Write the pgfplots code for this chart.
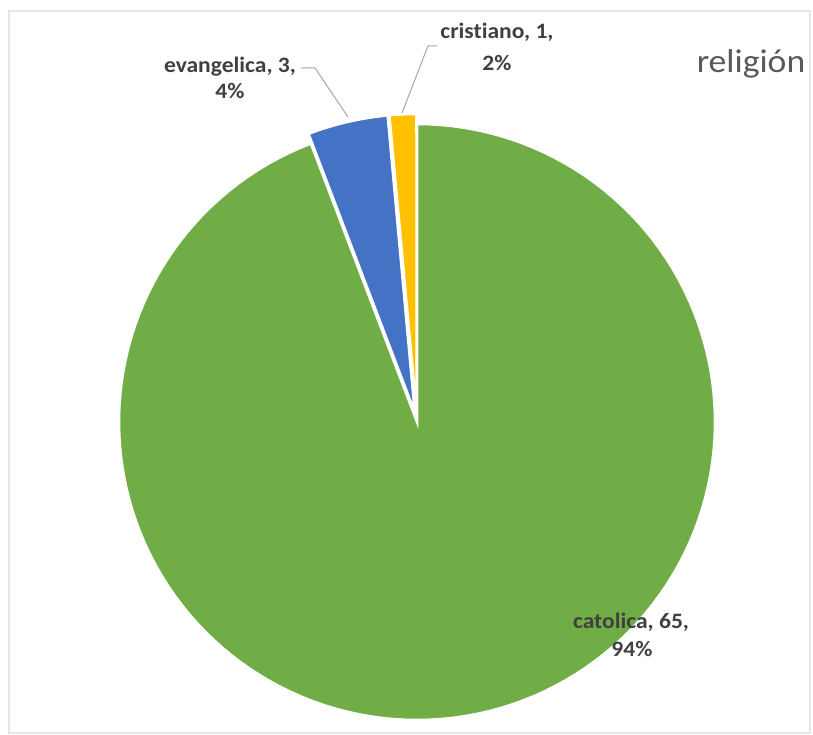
\documentclass[border=0pt]{standalone}
\usepackage{pgfplots}
\pgfplotsset{compat=1.18}
\usepackage{fontspec}
\setmainfont{Carlito}
\newfontfamily\lblfont[FakeStretch=1.07,Ligatures=NoCommon]{Carlito}
\newfontfamily\ttlfont[FakeStretch=1.08,Ligatures=NoCommon]{Carlito}
\definecolor{cgreen}{HTML}{70AD47}
\definecolor{cblue}{HTML}{4472C4}
\definecolor{cgold}{HTML}{FFC000}
\definecolor{lbltext}{HTML}{404040}
\definecolor{ttltext}{HTML}{595959}
\definecolor{leader}{HTML}{A6A6A6}
\definecolor{frame}{HTML}{E6E6E6}
% data: catolica, evangelica, cristiano
\def\vA{65}
\def\vB{3}
\def\vC{1}
\pgfmathsetmacro{\tot}{\vA+\vB+\vC}
% Excel starts at 12 o'clock going clockwise
\pgfmathsetmacro{\aStart}{450-360*(\vA/\tot)}  % catolica from here to 450
\pgfmathsetmacro{\bStart}{\aStart-360*(\vB/\tot)}  % evangelica
\pgfmathsetmacro{\cStart}{\bStart-360*(\vC/\tot)}  % cristiano
\def\cx{417}
\def\cy{422}
\def\R{298}
\def\ex{10}
\pgfmathsetmacro{\bMid}{(\aStart+\bStart)/2}
\pgfmathsetmacro{\cMid}{(\bStart+\cStart)/2}
\pgfmathsetmacro{\bx}{\cx+\ex*cos(\bMid)}
\pgfmathsetmacro{\by}{\cy-\ex*sin(\bMid)}
\pgfmathsetmacro{\ccx}{\cx+\ex*cos(\cMid)}
\pgfmathsetmacro{\ccy}{\cy-\ex*sin(\cMid)}
\begin{document}
\begin{tikzpicture}
\begin{axis}[
  width=813pt, height=735pt, scale only axis,
  xmin=0, xmax=813, ymin=0, ymax=735, y dir=reverse,
  hide axis, clip=false,
]
\path (axis cs:0,0) rectangle (axis cs:813,735);
\draw[frame, line width=1.5pt] (axis cs:9,11) rectangle (axis cs:810,733);
% catolica
\addplot[fill=cgreen, draw=white, line width=2.5pt, domain=\aStart:450, samples=150, variable=\t]
  ({\cx+\R*cos(t)}, {\cy-\R*sin(t)}) -- (axis cs:\cx,\cy) -- cycle;
% evangelica
\addplot[fill=cblue, draw=white, line width=2.5pt, domain=\bStart:\aStart, samples=20, variable=\t]
  ({\bx+\R*cos(t)}, {\by-\R*sin(t)}) -- (axis cs:\bx,\by) -- cycle;
% cristiano
\addplot[fill=cgold, draw=white, line width=2.5pt, domain=\cStart:\bStart, samples=10, variable=\t]
  ({\ccx+\R*cos(t)}, {\ccy-\R*sin(t)}) -- (axis cs:\ccx,\ccy) -- cycle;
% leader lines
\addplot[leader, line width=1pt, mark=none] coordinates {(301,68) (315,68) (348,117)};
\addplot[leader, line width=1pt, mark=none] coordinates {(437,46) (428,46) (402,113)};
% labels
\begin{scope}[every node/.style={text=lbltext, font=\lblfont\bfseries\fontsize{22}{26}\selectfont, anchor=base, inner sep=0pt}]
\node at (axis cs:230,73) {evangelica, 3,};
\node at (axis cs:230,98.5) {4\%};
\node at (axis cs:497,39) {cristiano, 1,};
\node at (axis cs:497,71) {2\%};
\node at (axis cs:631,628) {catolica, 65,};
\node at (axis cs:632,656) {94\%};
\end{scope}
\node[text=ttltext, font=\ttlfont\fontsize{33}{38}\selectfont, anchor=base, inner sep=0pt] at (axis cs:751,72.7) {religión};
\end{axis}
\end{tikzpicture}
\end{document}
